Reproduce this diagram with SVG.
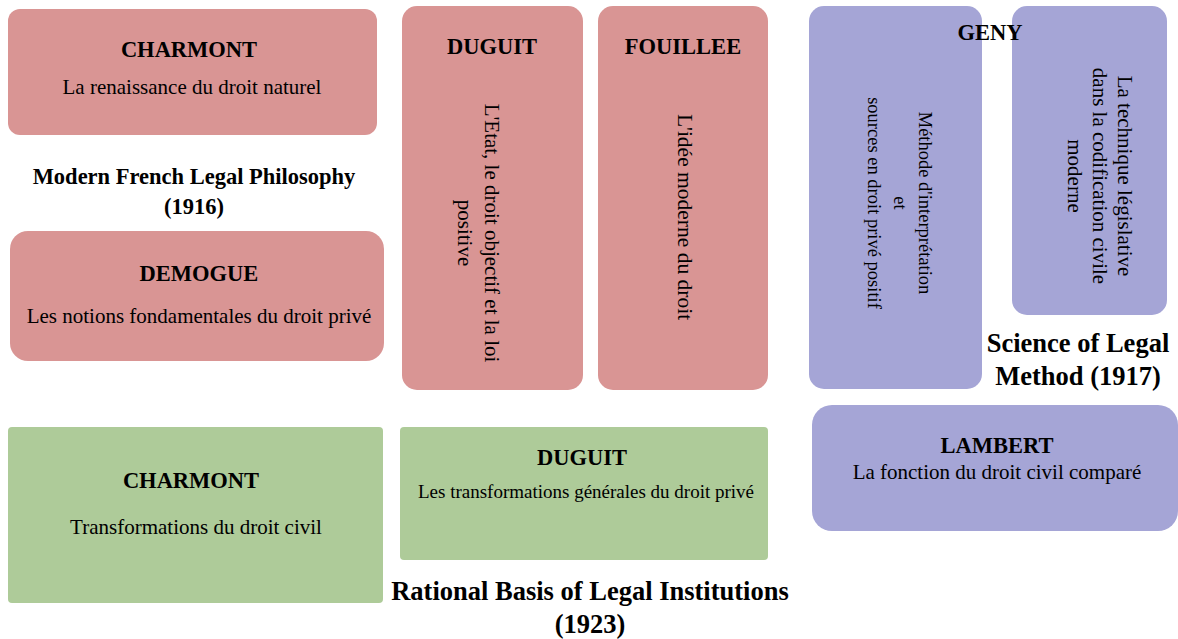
<svg xmlns="http://www.w3.org/2000/svg" width="1178" height="639" viewBox="0 0 1178 639">
<style>
.pink{fill:#d99594}
.green{fill:#aecb99}
.purple{fill:#a5a5d6}
text{font-family:"Liberation Serif","Times New Roman",serif;fill:#000;text-anchor:middle}
.h{font-weight:bold;font-size:22.5px}
.t{font-size:21px}
.big{font-weight:bold;font-size:26.5px}
</style>
<rect width="1178" height="639" fill="#fff"/>
<g id="charmont1916">
<rect class="pink" x="8" y="9" width="369" height="126" rx="12"/>
<text class="h" x="189" y="57">CHARMONT</text>
<text class="t" x="192" y="94">La renaissance du droit naturel</text>
</g>
<g id="title1916">
<text class="big" x="194" y="184" style="font-size:22.5px">Modern French Legal Philosophy</text>
<text class="big" x="194" y="214" style="font-size:22.5px">(1916)</text>
</g>
<g id="demogue">
<rect class="pink" x="10" y="231" width="374" height="130" rx="18"/>
<text class="h" x="199" y="281">DEMOGUE</text>
<text class="t" x="199" y="323">Les notions fondamentales du droit privé</text>
</g>
<g id="duguit1916">
<rect class="pink" x="402" y="6" width="181" height="384" rx="15"/>
<text class="h" x="492" y="54">DUGUIT</text>
<g transform="translate(492,233) rotate(90)">
<text class="t" x="0" y="7">L'Etat, le droit objectif et la loi</text>
<text class="t" x="0" y="34">positive</text>
</g>
</g>
<g id="fouillee">
<rect class="pink" x="598" y="6" width="170" height="384" rx="15"/>
<text class="h" x="683" y="54">FOUILLEE</text>
<g transform="translate(683,217) rotate(90)">
<text class="t" x="0" y="5" style="font-size:21.5px">L'idée moderne du droit</text>
</g>
</g>
<g id="geny1">
<rect class="purple" x="809" y="6" width="173" height="383" rx="15"/>
<g transform="translate(893,203) rotate(90)">
<text class="t" x="0" y="-26" style="font-size:18.5px">Méthode d'interprétation</text>
<text class="t" x="0" y="-1" style="font-size:18.5px">et</text>
<text class="t" x="0" y="25" style="font-size:18.5px">sources en droit privé positif</text>
</g>
</g>
<g id="geny2">
<rect class="purple" x="1012" y="6" width="155" height="309" rx="15"/>
<g transform="translate(1093,176) rotate(90)">
<text class="t" x="0" y="-25">La technique législative</text>
<text class="t" x="0" y="0">dans la codification civile</text>
<text class="t" x="0" y="25">moderne</text>
</g>
</g>
<g id="genyLabel">
<text class="h" x="990" y="40">GENY</text>
</g>
<g id="title1917">
<text class="big" x="1078" y="352">Science of Legal</text>
<text class="big" x="1078" y="385">Method (1917)</text>
</g>
<g id="lambert">
<rect class="purple" x="812" y="405" width="366" height="126" rx="20"/>
<text class="h" x="997" y="453">LAMBERT</text>
<text class="t" x="997" y="479">La fonction du droit civil comparé</text>
</g>
<g id="charmont1923">
<rect class="green" x="8" y="427" width="375" height="176" rx="4"/>
<text class="h" x="191" y="488">CHARMONT</text>
<text class="t" x="196" y="534">Transformations du droit civil</text>
</g>
<g id="duguit1923">
<rect class="green" x="400" y="427" width="368" height="133" rx="4"/>
<text class="h" x="582" y="465">DUGUIT</text>
<text class="t" x="586" y="498" style="font-size:19px">Les transformations générales du droit privé</text>
</g>
<g id="title1923">
<text class="big" x="590" y="600">Rational Basis of Legal Institutions</text>
<text class="big" x="590" y="633">(1923)</text>
</g>
<g id="connectors"></g>
</svg>
